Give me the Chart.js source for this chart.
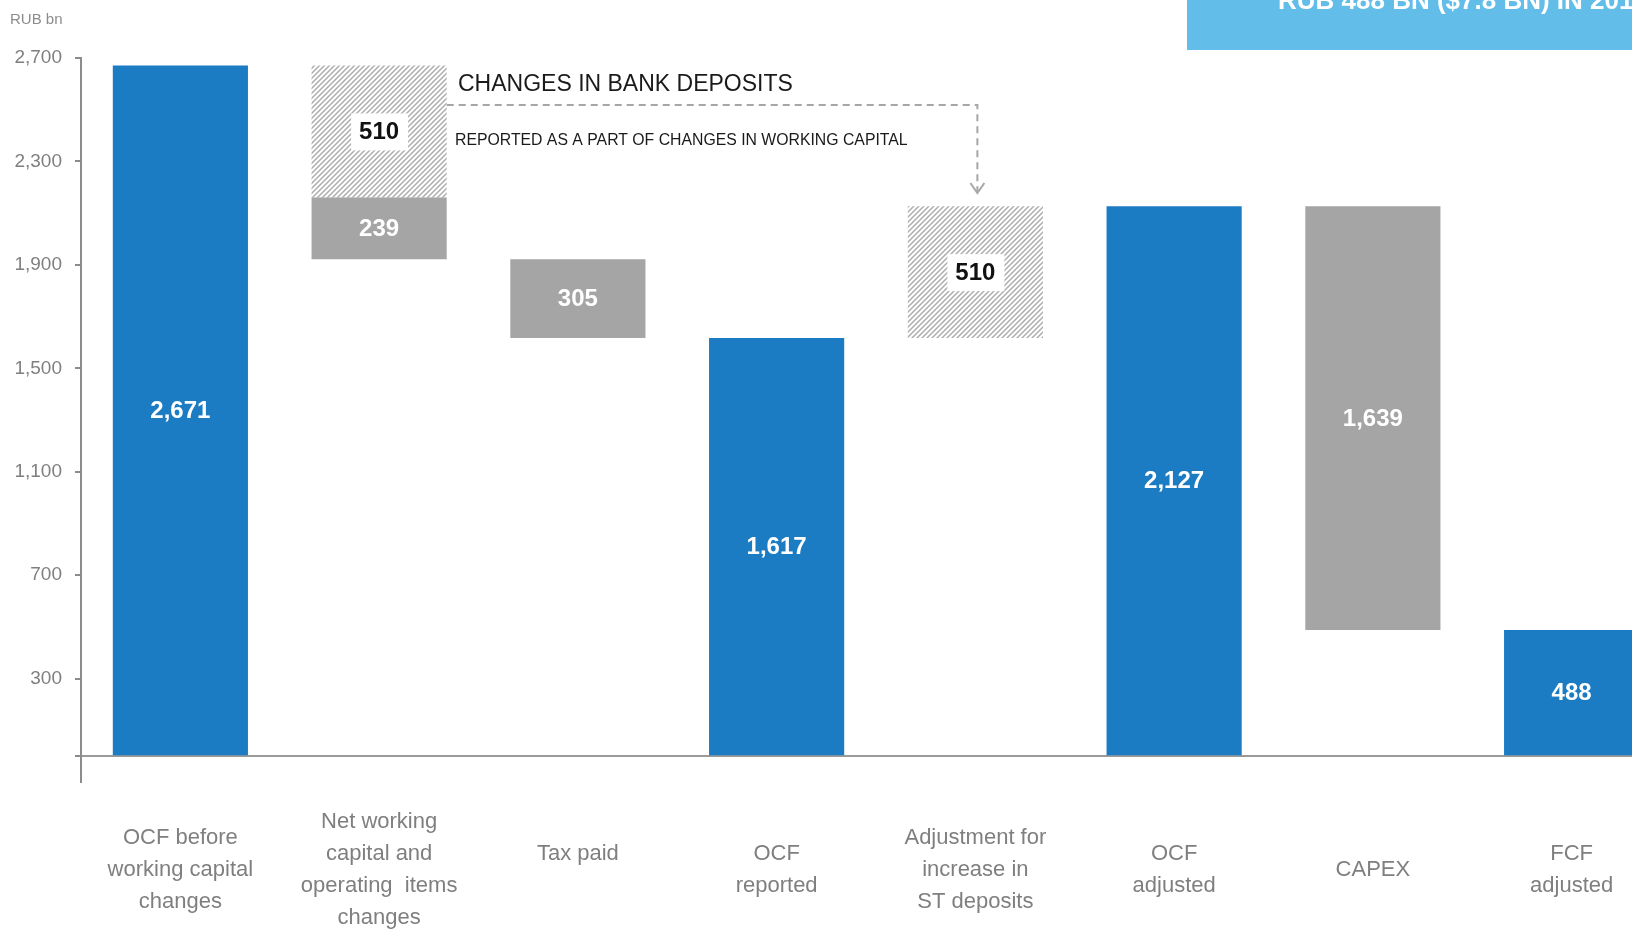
<!DOCTYPE html>
<html>
<head>
<meta charset="utf-8">
<script src="https://cdn.jsdelivr.net/npm/chart.js@4/dist/chart.umd.min.js"></script>
<style>
html, body { margin: 0; padding: 0; background: #fff; overflow: hidden; }
#wrap { position: relative; width: 1632px; height: 929px; overflow: hidden; }
</style>
</head>
<body>
<div id="wrap"><canvas id="cashChart" width="1680" height="990"></canvas></div>
<script>
// waterfall: OCF -> FCF adjusted, RUB bn
const categories = [
    ['OCF before', 'working capital', 'changes'],
    ['Net working', 'capital and', 'operating  items', 'changes'],
    ['Tax paid', ''],
    ['OCF', 'reported'],
    ['Adjustment for', 'increase in', 'ST deposits'],
    ['OCF', 'adjusted'],
    ['CAPEX'],
    ['FCF', 'adjusted']
];
const totals   = [2671, null, null, 1617, null, 2127, null, 488];
const outflows = [null, 239, 305, null, null, null, 1639, null];
const deposits = [null, -510, null, null, 510, null, null, null];
const yTicks   = [300, 700, 1100, 1500, 1900, 2300, 2700];

const BLUE = '#1b7bc3';
const GREY = '#a5a5a5';
const TEXT_GREY = '#7f7f7f';

// build floating ranges from running level
let level = 0;
const totalBars = [], outflowBars = [], depositBars = [];
categories.forEach((c, i) => {
    totalBars.push(null); outflowBars.push(null); depositBars.push(null);
    if (totals[i] !== null) {
        level = totals[i];
        totalBars[i] = [0, level];
    }
    if (deposits[i] !== null) {
        depositBars[i] = [level, level + deposits[i]];
        level += deposits[i];
    }
    if (outflows[i] !== null) {
        outflowBars[i] = [level - outflows[i], level];
        level -= outflows[i];
    }
});

const canvas = document.getElementById('cashChart');
const ctx = canvas.getContext('2d');

// hatch tile
const tile = document.createElement('canvas');
tile.width = 5; tile.height = 5;
const tg = tile.getContext('2d');
tg.fillStyle = '#fff';
tg.fillRect(0, 0, 5, 5);
tg.strokeStyle = '#adadad';
tg.lineWidth = 1.5;
tg.beginPath();
tg.moveTo(-1, 6); tg.lineTo(6, -1);
tg.moveTo(-1, 1); tg.lineTo(1, -1);
tg.moveTo(4, 6); tg.lineTo(6, 4);
tg.stroke();
const hatch = ctx.createPattern(tile, 'repeat');

Chart.defaults.font.family = "'Liberation Sans', Arial, sans-serif";

const valueLabels = {
    id: 'valueLabels',
    afterDatasetsDraw(chart) {
        const c = chart.ctx;
        c.save();
        c.textAlign = 'center';
        c.textBaseline = 'middle';
        c.font = "bold 24px 'Liberation Sans', Arial, sans-serif";
        chart.data.datasets.forEach((ds, di) => {
            const meta = chart.getDatasetMeta(di);
            meta.data.forEach((el, i) => {
                const v = ds.data[i];
                if (!v) return;
                const x = el.x;
                const y = (el.y + el.base) / 2;
                const txt = Math.abs(v[1] - v[0]).toLocaleString('en-US');
                if (ds.hatched) {
                    c.fillStyle = '#fff';
                    c.fillRect(x - 28, y - 18, 57, 37);
                    c.fillStyle = '#111';
                } else {
                    c.fillStyle = '#fff';
                }
                c.fillText(txt, x, y + 1);
            });
        });
        c.restore();
    }
};

const notes = {
    id: 'notes',
    afterDraw(chart) {
        const c = chart.ctx;
        const nwc = chart.getDatasetMeta(0).data[1];
        const adj = chart.getDatasetMeta(0).data[4];
        c.save();

        c.fillStyle = '#8c8c8c';
        c.font = "15px 'Liberation Sans', Arial, sans-serif";
        c.textBaseline = 'alphabetic';
        c.fillText('RUB bn', 10, 24);

        c.fillStyle = '#1a1a1a';
        c.font = "23px 'Liberation Sans', Arial, sans-serif";
        c.fillText('CHANGES IN BANK DEPOSITS', 458, 91);
        c.font = "15.8px 'Liberation Sans', Arial, sans-serif";
        c.fillText('REPORTED AS A PART OF CHANGES IN WORKING CAPITAL', 455, 145);

        // dashed connector to the adjustment bar
        const x0 = nwc.x + nwc.width / 2;
        const x1 = adj.x + 2;
        c.strokeStyle = '#a6a6a6';
        c.lineWidth = 2;
        c.setLineDash([7, 5]);
        c.beginPath();
        c.moveTo(x0, 105);
        c.lineTo(x1, 105);
        c.lineTo(x1, 192);
        c.stroke();
        c.setLineDash([]);
        c.beginPath();
        c.moveTo(x1 - 7, 183);
        c.lineTo(x1, 193);
        c.lineTo(x1 + 7, 183);
        c.stroke();

        // headline box (cut off by page edge)
        c.fillStyle = '#63bde9';
        c.fillRect(1187, 0, 600, 50);
        c.fillStyle = '#fff';
        c.font = "bold 26px 'Liberation Sans', Arial, sans-serif";
        c.fillText('RUB 488 BN ($7.8 BN) IN 2019', 1278, 9);

        c.restore();
    }
};

new Chart(ctx, {
    type: 'bar',
    data: {
        labels: categories,
        datasets: [
            { data: depositBars, backgroundColor: hatch, hatched: true },
            { data: outflowBars, backgroundColor: GREY },
            { data: totalBars, backgroundColor: BLUE }
        ]
    },
    plugins: [valueLabels, notes],
    options: {
        responsive: false,
        animation: false,
        barPercentage: 0.68,
        categoryPercentage: 1,
        borderWidth: 0,
        layout: { padding: { top: 58, right: 9, bottom: 0, left: 0 } },
        plugins: {
            legend: { display: false },
            tooltip: { enabled: false }
        },
        scales: {
            x: {
                stacked: true,
                border: { display: false },
                grid: { display: false, drawTicks: false },
                ticks: {
                    color: TEXT_GREY,
                    font: { size: 22, lineHeight: 32 / 22 },
                    padding: 40,
                    crossAlign: 'center',
                    maxRotation: 0,
                    autoSkip: false
                }
            },
            y: {
                min: -100,
                max: 2700,
                stacked: false,
                afterBuildTicks: s => { s.ticks = [0].concat(yTicks).map(v => ({ value: v })); },
                afterFit: s => { s.width = 81; },
                border: { display: true, color: '#8c8c8c', width: 2 },
                grid: {
                    color: c => (c.tick && c.tick.value === 0 ? '#9a9a9a' : 'rgba(0,0,0,0)'),
                    tickColor: '#8c8c8c',
                    lineWidth: 2,
                    tickLength: 6
                },
                ticks: {
                    color: TEXT_GREY,
                    font: { size: 19 },
                    padding: 13,
                    callback: v => (v === 0 ? '' : v.toLocaleString('en-US'))
                }
            }
        }
    }
});
</script>
</body>
</html>
